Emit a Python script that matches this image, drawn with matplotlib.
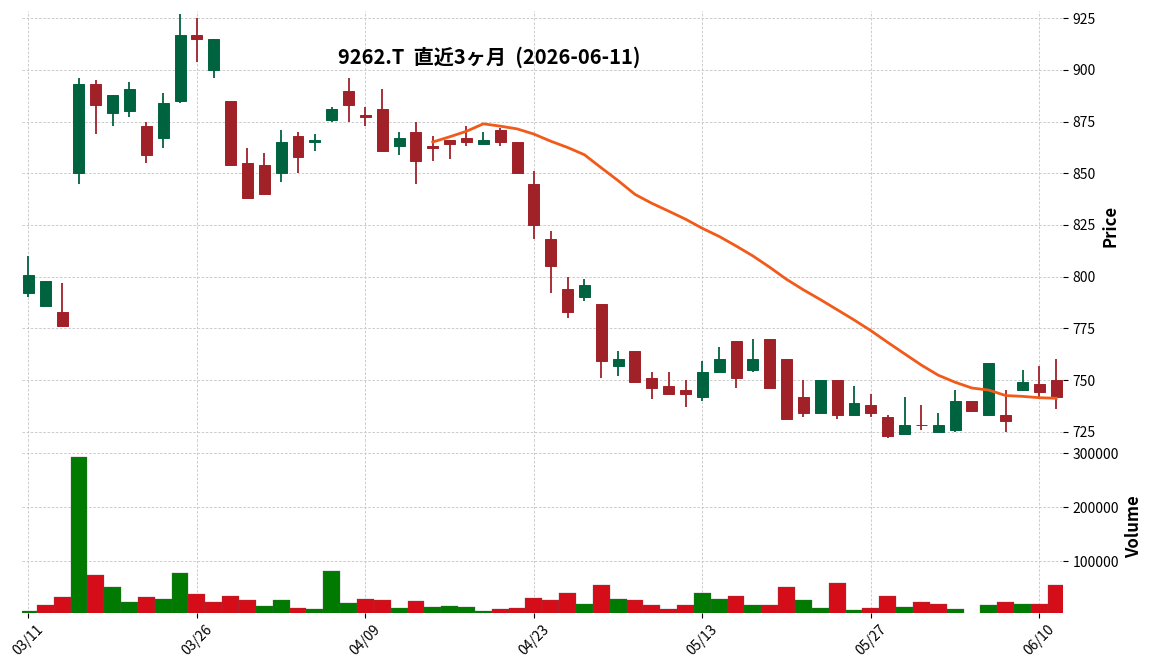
import numpy as np
import pandas as pd
import matplotlib
matplotlib.use('Agg')
import matplotlib.pyplot as plt
from matplotlib.ticker import MultipleLocator

# --- data (9262.T, last 3 months) ---
dates = ['03/11', '03/12', '03/13', '03/16', '03/17', '03/18', '03/19', '03/23', '03/24', '03/25',
         '03/26', '03/27', '03/30', '03/31', '04/01', '04/02', '04/03', '04/06', '04/07', '04/08',
         '04/09', '04/10', '04/13', '04/14', '04/15', '04/16', '04/17', '04/20', '04/21', '04/22',
         '04/23', '04/24', '04/27', '04/28', '04/30', '05/01', '05/07', '05/08', '05/11', '05/12',
         '05/13', '05/14', '05/15', '05/18', '05/19', '05/20', '05/21', '05/22', '05/25', '05/26',
         '05/27', '05/28', '05/29', '06/01', '06/02', '06/03', '06/04', '06/05', '06/08', '06/09',
         '06/10', '06/11']
opens = [792, 786, 783, 850, 893, 879, 880, 873, 867, 885, 917, 900, 885, 855, 854, 850, 868, 865, 876, 890,
         878, 881, 863, 870, 863, 866, 867, 864, 871, 865, 845, 818, 794, 790, 787, 757, 764, 751, 747, 745,
         742, 754, 769, 755, 770, 760, 742, 734, 750, 733, 738, 732, 724, 728, 725, 726, 740, 733, 733, 745,
         748, 750]
highs = [810, 798, 797, 896, 895, 888, 894, 875, 889, 927, 925, 915, 885, 862, 860, 871, 870, 869, 882, 896,
         882, 891, 870, 875, 868, 866, 873, 870, 872, 865, 851, 822, 800, 799, 787, 764, 764, 754, 754, 750,
         759, 766, 769, 770, 770, 760, 750, 750, 750, 747, 743, 733, 742, 738, 734, 745, 740, 758, 745, 755,
         757, 760]
lows = [790, 786, 776, 845, 869, 873, 877, 855, 862, 884, 904, 896, 854, 838, 840, 846, 850, 861, 875, 875,
        873, 861, 859, 845, 856, 857, 863, 864, 863, 850, 818, 792, 780, 788, 751, 752, 749, 741, 743, 737,
        740, 754, 746, 754, 746, 731, 732, 734, 731, 733, 732, 722, 724, 726, 725, 725, 735, 733, 725, 745,
        742, 736]
closes = [801, 798, 776, 893, 883, 888, 891, 859, 884, 917, 915, 915, 854, 838, 840, 865, 858, 866, 881, 883,
          877, 861, 867, 856, 862, 864, 865, 866, 865, 850, 825, 805, 783, 796, 759, 760, 749, 746, 743, 743,
          754, 760, 751, 760, 746, 731, 734, 750, 733, 739, 734, 723, 728, 728, 728, 740, 735, 758, 730, 749,
          744, 742]
volumes = [8000, 19100, 34000, 293200, 74700, 52500, 24700, 34000, 30200, 78400,
           39500, 24700, 35800, 28400, 17300, 28400, 13600, 11700, 82100, 22800,
           30200, 28400, 13600, 26500, 15400, 17300, 15400, 8000, 11700, 13600,
           32100, 28400, 41400, 21000, 56200, 30200, 28400, 19100, 11700, 19100,
           41400, 30200, 35800, 19100, 19100, 52500, 28400, 13600, 59900, 9900,
           13600, 35800, 15400, 24700, 21000, 11700, 0, 19100, 24700, 21000,
           21000, 56200]

title = '9262.T  直近3ヶ月  (2026-06-11)'

up_col, down_col = '#006340', '#A02128'
vol_up, vol_down = '#007a00', '#d50d18'
ma_col = '#f25a1a'
grid_col = '#c4c4c4'

plt.rcParams['font.family'] = ['Noto Sans CJK JP', 'DejaVu Sans']
plt.rcParams['font.size'] = 10

df = pd.DataFrame({'Open': opens, 'High': highs, 'Low': lows,
                   'Close': closes, 'Volume': volumes}, index=dates)
x = np.arange(len(df))
ma25 = df['Close'].rolling(25).mean()

fig = plt.figure(figsize=(11.52, 6.7), dpi=100)
ax = fig.add_axes([0.0188, 0.3418, 0.9039, 0.6418])
axv = fig.add_axes([0.0188, 0.0855, 0.9039, 0.2563], sharex=ax)

# candles
cols = np.where(df['Close'] > df['Open'], up_col, down_col)
ax.vlines(x, df['Low'], df['High'], colors=cols, linewidth=1.3, zorder=2)
body_lo = np.minimum(df['Open'], df['Close'])
body_h = (df['Close'] - df['Open']).abs()
ax.bar(x, body_h, 0.65, bottom=body_lo, color=cols, edgecolor=cols, linewidth=0.7, zorder=3)
ax.plot(x, ma25, color=ma_col, lw=2, zorder=4)

# volume, coloured against previous close
vup = (df['Close'] > df['Close'].shift(1)).to_numpy()
vup[0] = df['Open'].iloc[0] < df['Close'].iloc[0]
vcols = np.where(vup, vol_up, vol_down)
axv.bar(x, df['Volume'], 1.0, color=vcols, edgecolor='#5a5a5a', linewidth=0.2, zorder=3)

for a in (ax, axv):
    for s in a.spines.values():
        s.set_visible(False)
    a.grid(True, color=grid_col, linestyle=(0, (3, 2)), linewidth=0.6, zorder=0)
    a.set_axisbelow(True)
    a.yaxis.tick_right()
    a.yaxis.set_label_position('right')

ax.set_xlim(-0.4, len(df) - 0.6)
ax.set_ylim(min(lows) - 1.5, max(highs) + 1.5)
ax.yaxis.set_major_locator(MultipleLocator(25))
ax.tick_params(axis='x', length=0, labelbottom=False)
ax.set_ylabel('Price', fontsize=12, fontweight='bold')

axv.set_ylim(4800, 1.1 * max(volumes))
axv.yaxis.set_major_locator(MultipleLocator(100000))
axv.ticklabel_format(axis='y', style='plain', useOffset=False)
axv.set_xticks(x[::10])
axv.set_xticklabels(dates[::10], rotation=45, ha='center')
axv.set_ylabel('Volume', fontsize=12, fontweight='bold')

fig.text(0.425, 0.915, title, ha='center', va='center', fontsize=14.5, fontweight='bold')

fig.savefig('out.png', dpi=100, facecolor='white')
